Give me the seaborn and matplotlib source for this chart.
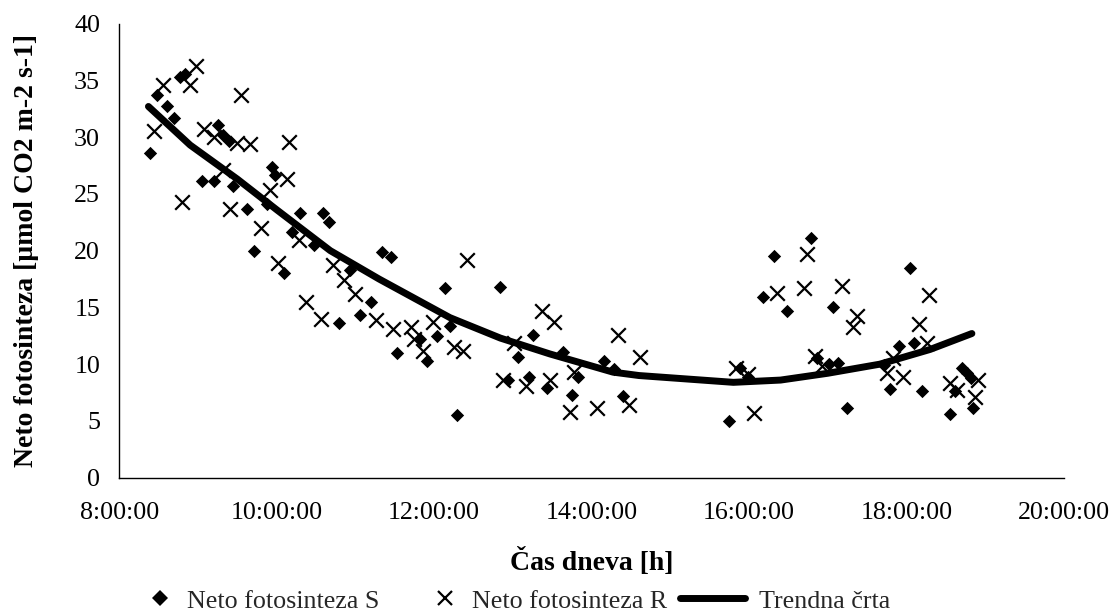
import matplotlib
matplotlib.use("Agg")
import matplotlib.pyplot as plt
import seaborn as sns
import pandas as pd
from matplotlib.lines import Line2D
from matplotlib.legend_handler import HandlerLine2D

# ---- data (hours of day, umol CO2 m-2 s-1) ----
s_hour = [8.39, 8.48, 8.61, 8.70, 8.77, 8.84, 9.05, 9.20, 9.26, 9.32, 9.39, 9.44, 9.62, 9.71,
          9.87, 9.94, 9.98, 10.09, 10.19, 10.30, 10.47, 10.59, 10.67, 10.79, 10.93, 11.06, 11.20,
          11.34, 11.45, 11.53, 11.82, 11.91, 12.04, 12.14, 12.20, 12.29, 12.84, 12.94, 13.06,
          13.20, 13.26, 13.43, 13.64, 13.75, 13.83, 14.16, 14.28, 14.40, 15.74, 15.88, 15.99,
          16.18, 16.31, 16.48, 16.78, 16.86, 17.01, 17.06, 17.13, 17.24, 17.71, 17.79, 17.91,
          18.04, 18.09, 18.19, 18.55, 18.62, 18.70, 18.77, 18.82, 18.85]
s_val = [28.6, 33.7, 32.7, 31.7, 35.3, 35.6, 26.1, 26.1, 31.1, 30.2, 29.7, 25.7, 23.7, 20.0,
         24.1, 27.4, 26.7, 18.0, 21.6, 23.3, 20.5, 23.3, 22.5, 13.6, 18.3, 14.3, 15.5,
         19.9, 19.4, 11.0, 12.2, 10.3, 12.5, 16.7, 13.4, 5.5, 16.8, 8.6, 10.6,
         8.9, 12.6, 7.9, 11.1, 7.3, 8.9, 10.3, 9.6, 7.2, 5.0, 9.7, 8.9,
         15.9, 19.5, 14.7, 21.1, 10.5, 10.0, 15.0, 10.1, 6.1, 9.9, 7.8, 11.6,
         18.5, 11.9, 7.6, 5.6, 7.6, 9.7, 9.2, 8.8, 6.1]

r_hour = [8.44, 8.55, 8.80, 8.90, 8.98, 9.07, 9.20, 9.32, 9.41, 9.49, 9.54, 9.66, 9.80, 9.91,
          10.02, 10.13, 10.16, 10.28, 10.37, 10.56, 10.71, 10.85, 11.00, 11.26, 11.48, 11.70,
          11.74, 11.86, 11.99, 12.25, 12.36, 12.42, 12.88, 13.01, 13.17, 13.37, 13.47, 13.52,
          13.72, 13.77, 14.07, 14.34, 14.48, 14.61, 15.83, 15.99, 16.06, 16.36, 16.70, 16.73,
          16.84, 16.92, 17.18, 17.32, 17.37, 17.75, 17.83, 17.95, 18.16, 18.26, 18.29, 18.55,
          18.64, 18.87, 18.91]
r_val = [30.5, 34.6, 24.3, 34.6, 36.3, 30.7, 30.0, 27.1, 23.7, 29.5, 33.7, 29.4, 22.0, 25.3,
         18.9, 26.3, 29.6, 20.9, 15.5, 14.0, 18.7, 17.4, 16.2, 13.9, 13.1, 13.3,
         12.2, 11.2, 13.7, 11.5, 11.2, 19.2, 8.6, 11.9, 8.1, 14.7, 8.6, 13.7,
         5.8, 9.3, 6.1, 12.6, 6.4, 10.6, 9.7, 9.1, 5.7, 16.3, 16.7, 19.7,
         10.7, 9.8, 16.9, 13.3, 14.2, 9.2, 10.5, 8.9, 13.5, 11.9, 16.1, 8.3,
         7.7, 7.1, 8.6]

trend_hour = [8.37, 8.90, 9.50, 10.00, 10.68, 11.30, 12.20, 12.84, 13.47, 14.27, 14.60,
              15.80, 16.40, 17.00, 17.66, 18.30, 18.83]
trend_val = [32.7, 29.3, 26.3, 23.6, 20.0, 17.5, 14.1, 12.3, 10.9, 9.3, 9.0,
             8.4, 8.6, 9.2, 10.0, 11.3, 12.7]

x_ticks = [8, 10, 12, 14, 16, 18, 20]
x_labels = ["8:00:00", "10:00:00", "12:00:00", "14:00:00", "16:00:00", "18:00:00", "20:00:00"]
y_ticks = [0, 5, 10, 15, 20, 25, 30, 35, 40]

label_s = "Neto fotosinteza S"
label_r = "Neto fotosinteza R"
label_t = "Trendna črta"

# ---- style ----
sns.set_theme(style="white")
plt.rcParams["font.family"] = ["Liberation Serif", "DejaVu Serif"]

FS = 18.7

fig = plt.figure(figsize=(11.14, 6.12), dpi=100)
ax = fig.add_axes([119.3 / 1114, 1 - 477.7 / 612, (1064 - 119.3) / 1114, (477.7 - 23.6) / 612])

df_s = pd.DataFrame({"h": s_hour, "v": s_val})
df_r = pd.DataFrame({"h": r_hour, "v": r_val})
df_t = pd.DataFrame({"h": trend_hour, "v": trend_val})

sns.scatterplot(data=df_s, x="h", y="v", marker="D", s=46, color="black",
                edgecolor="black", linewidth=0, ax=ax, zorder=3)
sns.scatterplot(data=df_r, x="h", y="v", marker="x", s=110, color="black",
                linewidth=1.6, ax=ax, zorder=3)
sns.lineplot(data=df_t, x="h", y="v", color="black", lw=5, estimator=None,
             sort=False, ax=ax, zorder=4, solid_capstyle="round", solid_joinstyle="round")

ax.set_xlim(8, 20)
ax.set_ylim(0, 40)
ax.set_xticks(x_ticks)
ax.set_xticklabels(x_labels)
ax.set_yticks(y_ticks)

for side in ["top", "right"]:
    ax.spines[side].set_visible(False)
for side in ["left", "bottom"]:
    ax.spines[side].set_color("black")
    ax.spines[side].set_linewidth(1.0)

ax.tick_params(axis="both", which="major", direction="out", length=5.8, width=0.8,
               color="black", labelsize=FS, labelcolor="black")
ax.tick_params(axis="y", pad=8)
ax.tick_params(axis="x", pad=11.5)
ax.grid(False)

ax.set_xlabel("Čas dneva [h]", fontsize=20, fontweight="bold", color="black")
ax.set_ylabel("Neto fotosinteza [µmol CO2 m-2 s-1]", fontsize=20, fontweight="bold", color="black")
ax.xaxis.set_label_coords(0.5, -0.155)
ax.yaxis.set_label_coords(-0.085, 0.5)


class LongLineHandler(HandlerLine2D):
    def create_artists(self, legend, orig_handle, xdescent, ydescent, width, height, fontsize, trans):
        y = height / 2.0 - ydescent
        ext = 1.5 * fontsize
        line = Line2D([-xdescent - ext, width - xdescent], [y, y], color="black", lw=5,
                      solid_capstyle="round")
        line.set_transform(trans)
        return [line]


h_s = Line2D([], [], marker="D", color="black", linestyle="none", markersize=8.5, markeredgewidth=0)
h_r = Line2D([], [], marker="x", color="black", linestyle="none", markersize=10.5, markeredgewidth=1.6)
h_t = Line2D([], [], color="black", lw=5)

leg = fig.legend([h_s, h_r, h_t], [label_s, label_r, label_t], loc="center left",
                 bbox_to_anchor=(147 / 1114, 0.018), ncol=3, frameon=False, fontsize=FS,
                 handlelength=1.0, handletextpad=0.55, columnspacing=2.0,
                 borderaxespad=0, borderpad=0,
                 handler_map={h_t: LongLineHandler()})

fig.savefig("out.png", dpi=100, facecolor="white")
